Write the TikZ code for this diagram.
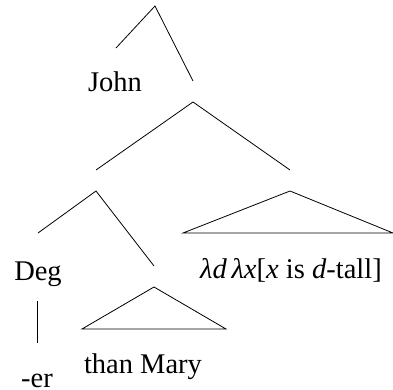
\documentclass[tikz,border=0pt]{standalone}
\usepackage{fontspec}
\setmainfont{Liberation Serif}
\usepackage{tikz}

\begin{document}
\begin{tikzpicture}[x=1pt, y=-1pt, line width=0.8pt,
    word/.style={anchor=base, inner sep=0pt, font=\fontsize{28.5}{34}\selectfont}]
    			\useasboundingbox (0,0) rectangle (393,390);
    			% branch points and branch ends
    			\foreach \x/\y/\name in {
    				155/6/S, 116/48/Sl, 193/81/Sr,
    				193/102/VP, 96/170/VPl, 290/170/VPr,
    				96/191/DegP, 38/233/DegPl, 154/266/DegPr,
    				37/301/Degb, 37/343/erT,
    				154/287/PP, 82/329/PPl, 226/329/PPr,
    				290/191/AP, 183/233/APl, 393/233/APr}{
    				\coordinate (\name) at (\x,\y);
    			}
    			
    			\node[word] (john) at (115,92) {John};
    			\node[word] (deg) at (38,280) {Deg};
    			\node[word] (er) at (37,387) {-er};
    			\node[word] (thanmary) at (143,373) {than Mary};
    			\node[word] (lambda) at (291,278) {\textit{λd}\,\textit{λx}[\textit{x} is \textit{d}-tall]};
    			
    			\draw (Sl) -- (S) -- (Sr);
    			\draw (VPl) -- (VP) -- (VPr);
    			\draw (DegPl) -- (DegP) -- (DegPr);
    			\draw (Degb) -- (erT);
    			\draw (PP) -- (PPl) -- (PPr) -- cycle;
    			\draw (AP) -- (APl) -- (APr) -- cycle;
    		\end{tikzpicture}
\end{document}
